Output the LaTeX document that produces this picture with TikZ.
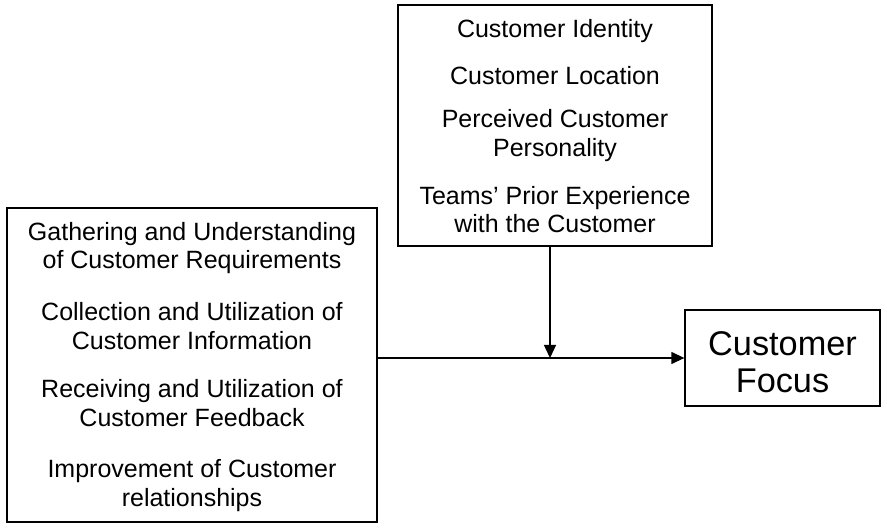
\documentclass[tikz,border=0pt]{standalone}
\usepackage{fontspec}
\setmainfont{Liberation Sans}
\usetikzlibrary{arrows.meta}
\begin{document}
\begin{tikzpicture}[x=1pt,y=-1pt,
  box/.style={draw=black,line width=1.3pt,fill=white,inner sep=0pt},
  item/.style={align=center,font=\fontsize{25}{28.5}\selectfont,inner sep=0pt},
  big/.style={align=center,font=\fontsize{34.3}{37.5}\selectfont,inner sep=0pt},
  conn/.style={line width=1.3pt,-{Triangle[length=13pt,width=12pt]}}]
\useasboundingbox (0,0) rectangle (887,529);
\fill[white] (0,0) rectangle (887,529);
% boxes
\node[box,minimum width=370pt,minimum height=314pt] (left) at (192,365) {};
\node[box,minimum width=314pt,minimum height=241pt] (top) at (555,125.5) {};
\node[box,minimum width=195pt,minimum height=96pt] (focus) at (782.5,358) {};
% top texts
\node[item] (t1) at (555,31) {Customer Identity};
\node[item] (t2) at (555,76) {Customer Location};
\node[item] (t3) at (555,135.5) {Perceived Customer\\Personality};
\node[item] (t4) at (555,209.5) {Teams’ Prior Experience\\with the Customer};
% left texts
\node[item] (l1) at (192,248) {Gathering and Understanding\\of Customer Requirements};
\node[item] (l2) at (192,326) {Collection and Utilization of\\Customer Information};
\node[item] (l3) at (192,403) {Receiving and Utilization of\\Customer Feedback};
\node[item] (l4) at (192,485.5) {Improvement of Customer\\relationships};
% focus text
\node[big] (f) at (782.5,362) {Customer\\Focus};
% connectors
\coordinate (j) at (550,358);
\draw[conn] (left.east |- focus.west) -- (focus.west);
\draw[conn] (top.south -| j) -- (j);
\end{tikzpicture}
\end{document}
